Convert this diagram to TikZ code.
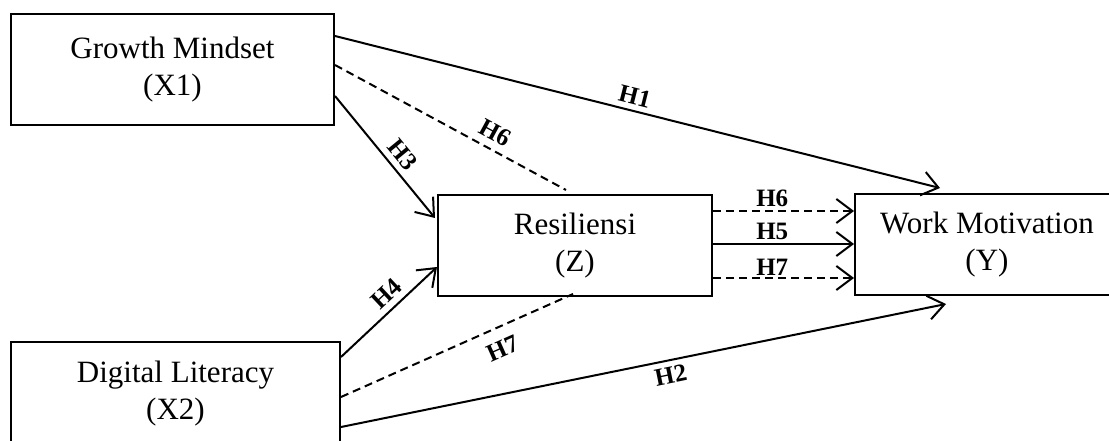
\documentclass[tikz,border=0pt]{standalone}
\usepackage{fontspec}
\setmainfont{Liberation Serif}
\usetikzlibrary{calc}
\usetikzlibrary{arrows.meta}

\begin{document}
\begin{tikzpicture}[x=1pt, y=-1pt, line width=2pt,
  every node/.style={font=\fontsize{31}{37}\selectfont},
  var/.style={draw, rectangle, align=center, inner sep=0pt},
  hyp/.style={font=\fontsize{25}{28}\selectfont\bfseries, inner sep=5pt},
  arr/.style={-{Straight Barb[length=16pt,width=24pt]}},
  med/.style={dash pattern=on 8pt off 5pt}]
     \useasboundingbox (0,0) rectangle (1109,441);
     \clip (0,0) rectangle (1109,441);
     \node[var, minimum width=323pt, minimum height=111pt] (gm) at (172.5,69.5) {Growth Mindset\\(X1)};
     \node[var, minimum width=329pt, minimum height=103pt] (dl) at (175.5,393.5) {Digital Literacy\\(X2)};
     \node[var, minimum width=274pt, minimum height=101pt] (rs) at (575,245.5) {Resiliensi\\(Z)};
     \node[var, minimum width=264pt, minimum height=101pt] (wm) at (987,244.5) {Work Motivation\\(Y)};
     % ends of the connectors
     \coordinate (gm1) at ($(gm.north east)+(0,23)$);
     \coordinate (gm2) at ($(gm.north east)+(0,52)$);
     \coordinate (gm3) at ($(gm.north east)+(0,83)$);
     \coordinate (dl1) at ($(dl.north east)+(0,16)$);
     \coordinate (dl2) at ($(dl.north east)+(0,56)$);
     \coordinate (dl3) at ($(dl.north east)+(0,86)$);
     \coordinate (rs3) at ($(rs.north west)+(-2,24)$);
     \coordinate (rs4) at ($(rs.north west)+(0,73)$);
     \coordinate (rs6) at ($(rs.north west)+(129,-4)$);
     \coordinate (rs7) at ($(rs.south west)+(136,-3)$);
     \coordinate (ro1) at ($(rs.north east)+(0,17)$);
     \coordinate (ro2) at ($(rs.north east)+(0,50)$);
     \coordinate (ro3) at ($(rs.north east)+(0,84)$);
     \coordinate (wi1) at ($(wm.north west)+(0,18)$);
     \coordinate (wi2) at ($(wm.north west)+(0,51)$);
     \coordinate (wi3) at ($(wm.north west)+(0,85)$);
     \coordinate (wm1) at ($(wm.north west)+(86,-5)$);
     \coordinate (wm2) at ($(wm.south west)+(92,8)$);
\draw[arr] (gm1) -- node[hyp, sloped, above, pos=0.49] {H1} (wm1);
\draw[med] (gm2) -- node[hyp, sloped, above, pos=0.66, inner sep=7pt] {H6} (rs6);
\draw[arr] (gm3) -- node[hyp, sloped, above, pos=0.56, inner sep=6pt] {H3} (rs3);
\draw[arr] (dl1) -- node[hyp, sloped, above, pos=0.58, inner sep=6pt] {H4} (rs4);
\draw[med] (dl2) -- node[hyp, sloped, below, pos=0.66, inner sep=12pt] {H7} (rs7);
\draw[arr] (dl3) -- node[hyp, sloped, below, pos=0.54, inner sep=6pt] {H2} (wm2);
\draw[arr, med] (ro1) -- node[hyp, above, pos=0.42, inner sep=3pt] {H6} (wi1);
\draw[arr] (ro2) -- node[hyp, above, pos=0.42, inner sep=3pt] {H5} (wi2);
\draw[arr, med] (ro3) -- node[hyp, above, pos=0.42, inner sep=2pt] {H7} (wi3);
\end{tikzpicture}
\end{document}
